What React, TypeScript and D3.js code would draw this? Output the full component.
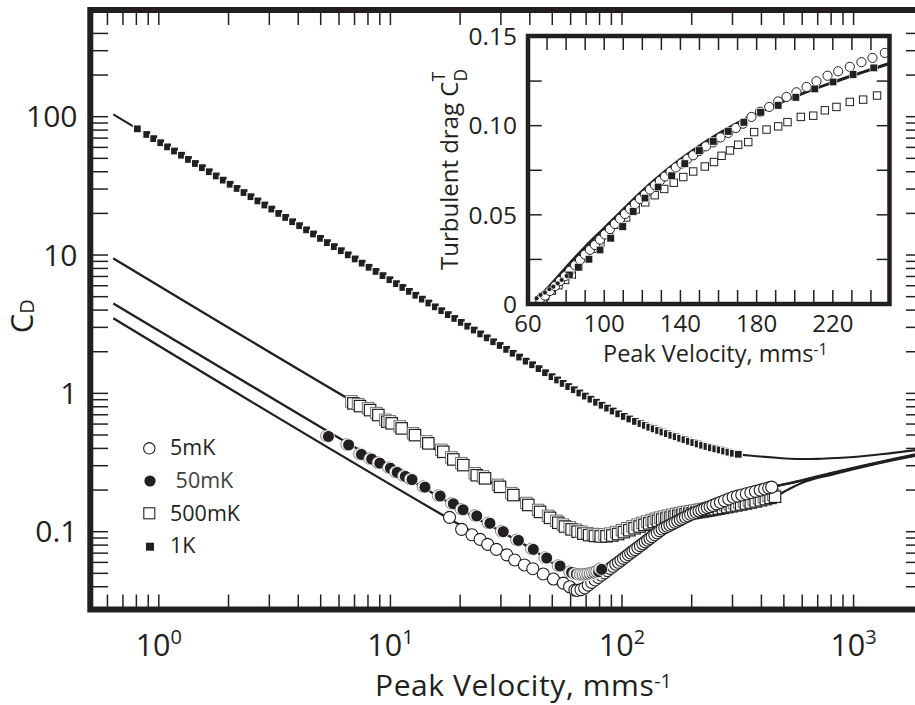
import React from "react";
import * as d3 from "d3";

const INK = "#231f20";
const FONT = "'Open Sans', 'Noto Sans', sans-serif";

// ---------- main panel: drag coefficient C_D against peak velocity (mm/s) ----------
const vel1K = [0.808, 0.887, 0.951, 1.019, 1.091, 1.169, 1.253, 1.343, 1.439, 1.542, 1.652, 1.77, 1.897, 2.032, 2.178, 2.333, 2.5, 2.679, 2.871, 3.076, 3.296, 3.532, 3.784, 4.055, 4.345, 4.656, 4.989, 5.346, 5.728, 6.138, 6.577, 7.047, 7.551, 8.091, 8.67, 9.29, 9.954, 10.62, 11.32, 12.08, 12.88, 13.74, 14.66, 15.63, 16.67, 17.78, 18.97, 20.23, 21.58, 23.01, 24.55, 26.18, 27.93, 29.79, 31.77, 33.88, 36.14, 38.55, 41.11, 43.85, 46.77, 49.89, 52.72, 55.72, 58.88, 62.23, 65.77, 69.5, 73.45, 77.62, 82.04, 86.7, 91.62, 96.83, 102.3, 108.1, 114.3, 120.8, 126.2, 131.8, 137.7, 143.9, 150.3, 157.0, 164.1, 171.4, 179.1, 187.1, 195.4, 204.2, 213.3, 222.8, 232.8, 243.2, 254.1, 265.5, 277.3, 289.7, 302.7, 317.7];
const cd1K = [81.7, 74.4, 69.4, 64.8, 60.5, 56.5, 52.7, 49.1, 45.9, 42.8, 40.0, 37.3, 34.8, 32.5, 30.3, 28.3, 26.4, 24.6, 23.0, 21.5, 20.0, 18.7, 17.4, 16.3, 15.2, 14.2, 13.2, 12.3, 11.5, 10.75, 10.03, 9.37, 8.74, 8.16, 7.61, 7.1, 6.63, 6.21, 5.83, 5.46, 5.12, 4.8, 4.5, 4.22, 3.96, 3.71, 3.48, 3.26, 3.06, 2.87, 2.69, 2.52, 2.36, 2.22, 2.08, 1.95, 1.83, 1.71, 1.61, 1.51, 1.41, 1.32, 1.25, 1.18, 1.12, 1.062, 1.006, 0.956, 0.908, 0.863, 0.821, 0.782, 0.745, 0.711, 0.681, 0.653, 0.627, 0.605, 0.587, 0.569, 0.554, 0.539, 0.525, 0.512, 0.498, 0.486, 0.474, 0.463, 0.451, 0.441, 0.431, 0.422, 0.413, 0.404, 0.397, 0.39, 0.383, 0.376, 0.369, 0.363];

const vel500mK = [6.92, 7.39, 8.17, 8.87, 9.7, 10.13, 11.19, 12.77, 14.58, 16.92, 18.69, 20.64, 23.59, 25.62, 29.73, 33.95, 39.4, 44.3, 48.9, 53.1, 56.7, 60.6, 64.3, 68.1, 72.1, 76.4, 80.9, 85.7, 90.8, 96.2, 101.9, 107.5, 113.3, 119.1, 125, 131, 137, 143, 149, 155.5, 162, 168.5, 175, 181.5, 188, 195, 202, 209, 216, 223, 230, 237, 244, 252, 262, 273, 285, 298, 312, 327, 343, 360, 378, 398, 418, 438, 458];
const cd500mK = [0.847, 0.809, 0.757, 0.697, 0.623, 0.607, 0.558, 0.499, 0.435, 0.378, 0.333, 0.303, 0.256, 0.243, 0.211, 0.184, 0.156, 0.139, 0.126, 0.116, 0.109, 0.104, 0.1, 0.0968, 0.0945, 0.0932, 0.0924, 0.0926, 0.0938, 0.0962, 0.0993, 0.1025, 0.1058, 0.109, 0.112, 0.1148, 0.1175, 0.12, 0.1223, 0.1245, 0.1265, 0.1284, 0.1302, 0.1318, 0.1333, 0.1348, 0.1362, 0.1375, 0.1388, 0.1401, 0.1413, 0.1425, 0.1437, 0.1451, 0.1468, 0.1486, 0.1506, 0.1527, 0.155, 0.1574, 0.1599, 0.1626, 0.1655, 0.1687, 0.172, 0.1755, 0.179];

const vel5mK = [18.0, 20.3, 22.5, 24.4, 26.3, 28.7, 31.8, 34.4, 37.9, 41.2, 45.7, 50.6, 55.8, 59.4, 62.6, 64, 66.5, 69, 71.5, 74, 76.5, 79, 81.5, 84, 86.5, 89, 91.5, 94, 96.5, 99, 101.5, 104, 106.5, 109, 111.5, 114, 117, 120, 123, 126, 129, 132, 135, 138.5, 142, 145.5, 149, 153, 157, 161, 165, 169.5, 174, 178.5, 183, 188, 193, 198, 203.5, 209, 215, 221, 227, 233.5, 240, 247, 256, 266, 277, 289, 302, 315, 329, 344, 360, 377, 395, 413, 430, 443];
const cd5mK = [0.127, 0.104, 0.095, 0.088, 0.081, 0.0745, 0.068, 0.0625, 0.0575, 0.054, 0.0495, 0.0455, 0.0425, 0.04, 0.0378, 0.0376, 0.0381, 0.0392, 0.0411, 0.043, 0.0448, 0.0467, 0.0486, 0.0504, 0.0524, 0.0543, 0.0562, 0.0582, 0.0601, 0.0621, 0.0641, 0.0661, 0.0682, 0.0702, 0.0723, 0.0743, 0.0768, 0.0793, 0.0818, 0.0844, 0.0869, 0.0895, 0.0921, 0.0951, 0.0982, 0.1014, 0.1045, 0.107, 0.1094, 0.1117, 0.1141, 0.1167, 0.1193, 0.122, 0.1246, 0.1275, 0.1303, 0.1332, 0.1358, 0.1384, 0.1411, 0.1437, 0.1463, 0.1492, 0.152, 0.155, 0.1588, 0.1631, 0.1675, 0.1724, 0.1775, 0.1809, 0.1844, 0.188, 0.1918, 0.1957, 0.1998, 0.2037, 0.2073, 0.2101];

const vel50mK = [5.4, 6.6, 7.5, 8.3, 9.0, 10.0, 10.7, 11.6, 12.4, 14.1, 16.4, 18.7, 20.6, 23.6, 26.9, 30.7, 35.7, 41.4, 47.3, 54.0, 60.6, 63.5, 65.9, 67.5, 69.2, 70.9, 72.6, 74.3, 76.0, 77.7, 79.3, 81.7];
const cd50mK = [0.488, 0.424, 0.362, 0.335, 0.313, 0.288, 0.268, 0.251, 0.238, 0.21, 0.181, 0.159, 0.144, 0.13, 0.115, 0.1, 0.0865, 0.0745, 0.0645, 0.0565, 0.0508, 0.0494, 0.0488, 0.0487, 0.0487, 0.0489, 0.0492, 0.0496, 0.0501, 0.0507, 0.0513, 0.0534];

// model curves (laminar + turbulent drag) for each temperature
const fitVel1K = [0.636, 0.808, 2, 10, 50, 80, 100, 150, 200, 250, 317.7, 394, 466, 531, 600, 700, 850, 1000, 1340, 1841, 2000];
const fitCd1K = [103.8, 81.7, 33, 6.6, 1.32, 0.845, 0.69, 0.525, 0.445, 0.4, 0.363, 0.35, 0.342, 0.337, 0.335, 0.336, 0.341, 0.347, 0.364, 0.389, 0.396];
const fitVel500mK = [0.636, 6.92, 20, 40, 60, 80, 100, 150, 200, 300, 458, 520, 600, 814, 1100, 1500, 2000];
const fitCd500mK = [9.47, 0.87, 0.31, 0.155, 0.104, 0.0925, 0.0985, 0.1225, 0.136, 0.153, 0.18, 0.201, 0.226, 0.26, 0.294, 0.33, 0.364];
const fitVel50mK = [0.636, 5.4, 10, 20, 40, 60, 70, 81.7, 92, 105, 120, 136, 150, 178, 214, 255, 302, 355, 420, 470, 600, 814, 1100, 1500, 2000];
const fitCd50mK = [4.47, 0.527, 0.288, 0.146, 0.0765, 0.0508, 0.0487, 0.0534, 0.0625, 0.0745, 0.0885, 0.103, 0.114, 0.132, 0.149, 0.165, 0.18, 0.194, 0.207, 0.215, 0.236, 0.267, 0.3, 0.336, 0.372];
const fitVel5mK = [0.636, 18, 25, 35, 45, 55, 62, 66, 70, 80, 100, 150, 200, 300, 443, 600, 814, 1100, 1500, 2000];
const fitCd5mK = [3.49, 0.1235, 0.09, 0.064, 0.05, 0.042, 0.0385, 0.0378, 0.0395, 0.0475, 0.0635, 0.1045, 0.1335, 0.177, 0.21, 0.234, 0.265, 0.298, 0.334, 0.368];

const xDecades = [1, 10, 100, 1000];
const xDecadeExponents = ["0", "1", "2", "3"];
const yDecades = [0.1, 1, 10, 100];
const yDecadeLabels = ["0.1", "1", "10", "100"];

const legendLabels = ["5mK", " 50mK", "500mK", "1K"];

// ---------- inset: turbulent drag C_D^T against peak velocity ----------
const insetVel5mK = [66.3, 68.9, 71.5, 74.2, 76.8, 79.4, 82, 84.7, 87.3, 89.9, 92.5, 95.1, 97.8, 100.4, 103, 105.6, 108.3, 110.9, 113.5, 116.1, 118.7, 121.4, 124, 126.6, 129.2, 131.9, 134.8, 137.6, 140.6, 143.6, 146.7, 149.9, 153.4, 157.2, 161, 165.1, 169.1, 172.9, 177.3, 181.8, 186.6, 191.3, 195.7, 200.9, 206.2, 211.4, 217.2, 222.8, 228.9, 235, 240.8, 247.3];
const insetCdT5mK = [0.0026, 0.0047, 0.0073, 0.0101, 0.0129, 0.0156, 0.0186, 0.0217, 0.0247, 0.0277, 0.0304, 0.0331, 0.0361, 0.039, 0.042, 0.0449, 0.0478, 0.0505, 0.0533, 0.056, 0.0589, 0.0614, 0.0642, 0.0666, 0.069, 0.0715, 0.0741, 0.0766, 0.0788, 0.0813, 0.0834, 0.0858, 0.0884, 0.0906, 0.0934, 0.0959, 0.0987, 0.1011, 0.1049, 0.1078, 0.1105, 0.1136, 0.1161, 0.1187, 0.1217, 0.1249, 0.128, 0.1305, 0.133, 0.1356, 0.138, 0.1408];

const insetVel50mK = [64.5, 66.6, 68.9, 71.2, 73.3, 75.6, 77.7, 80.3];
const insetCdT50mK = [0.0032, 0.0051, 0.0064, 0.0083, 0.0097, 0.0116, 0.0135, 0.0157];

const insetVel500mK = [66, 69, 72.5, 76, 79.5, 83, 86.5, 90, 94, 98, 102.5, 107, 111.5, 116.5, 121.5, 126.5, 131.5, 136.5, 141.5, 146.7, 152.8, 157.6, 161.6, 166, 170.3, 175.6, 178.7, 185.2, 191.3, 196.2, 203.2, 209.7, 215.8, 221.9, 228.9, 235.9, 243.2];
const insetCdT500mK = [0.002, 0.0045, 0.0075, 0.0105, 0.0135, 0.0165, 0.021, 0.026, 0.031, 0.0345, 0.04, 0.0445, 0.0485, 0.053, 0.057, 0.061, 0.0645, 0.068, 0.0712, 0.0743, 0.0771, 0.0796, 0.0831, 0.0861, 0.0893, 0.0908, 0.0964, 0.0978, 0.0996, 0.102, 0.1049, 0.1056, 0.1086, 0.1105, 0.1133, 0.1146, 0.1169];

const insetVel1K = [81.7, 86.4, 92, 97.8, 103.4, 109.7, 115.2, 121.4, 128.3, 135.4, 142.3, 149.9, 157.2, 165.1, 173.3, 182.1, 191.3, 200.6, 210.5, 220.1, 230.6, 241.5];
const insetCdT1K = [0.0163, 0.0206, 0.0251, 0.0303, 0.0369, 0.0434, 0.0519, 0.0594, 0.0656, 0.0719, 0.0787, 0.086, 0.0912, 0.0968, 0.1019, 0.1075, 0.1114, 0.1159, 0.1206, 0.1245, 0.1287, 0.1324];

const insetFitVel = [64, 70, 80, 90, 100, 110, 120, 130, 140, 150, 160, 170, 180, 190, 200, 210, 220, 230, 240, 250];
const insetFitCdT = [0.002, 0.0085, 0.0205, 0.032, 0.0425, 0.053, 0.0633, 0.0726, 0.081, 0.0886, 0.0954, 0.1015, 0.1068, 0.1118, 0.1163, 0.1205, 0.1243, 0.128, 0.1315, 0.135];

const insetXLabels = [60, 100, 140, 180, 220];
const insetYLabels = ["0", "0.05", "0.10", "0.15"];
const insetYLabelValues = [0, 0.05, 0.1, 0.15];

type Pt = [number, number];
const zipPts = (xs: number[], ys: number[]): Pt[] =>
  xs.slice(0, Math.min(xs.length, ys.length)).map((v, i) => [v, ys[i]] as Pt);

export default function App() {
  // main log-log axes
  const x = d3.scaleLog().domain([0.5, 2000]).range([89.1, 923.3]);
  const y = d3.scaleLog().domain([0.1, 100]).range([531.7, 116.7]);
  const frame = { left: 90.3, right: 924, top: 10, bottom: 609.5 };

  const curve = d3
    .line<Pt>()
    .x((d) => x(d[0]))
    .y((d) => y(d[1]))
    .curve(d3.curveMonotoneX);

  const xTicks = d3
    .range(-1, 4)
    .flatMap((e) => d3.range(1, 10).map((m) => m * Math.pow(10, e)))
    .filter((v) => v > 0.52 && v < 1990);
  const yTicks = d3
    .range(-2, 3)
    .flatMap((e) => d3.range(1, 10).map((m) => m * Math.pow(10, e)))
    .filter((v) => v > 0.039 && v < 450);

  const pts1K = zipPts(vel1K, cd1K);
  const pts500 = zipPts(vel500mK, cd500mK);
  const pts5 = zipPts(vel5mK, cd5mK);
  const pts50 = zipPts(vel50mK, cd50mK);

  const fits: Pt[][] = [
    zipPts(fitVel500mK, fitCd500mK),
    zipPts(fitVel50mK, fitCd50mK),
    zipPts(fitVel5mK, fitCd5mK),
  ];
  const fit1K = zipPts(fitVel1K, fitCd1K);

  // inset linear axes
  const ix = d3.scaleLinear().domain([60, 250]).range([528, 890]);
  const iy = d3.scaleLinear().domain([0, 0.15]).range([304, 36.5]);
  const insetLine = d3
    .line<Pt>()
    .x((d) => ix(d[0]))
    .y((d) => iy(d[1]))
    .curve(d3.curveMonotoneX);
  const ixTicks = d3.range(70, 250, 10);
  const iyTicks = [0.025, 0.05, 0.075, 0.1, 0.125];

  const sq500 = 11.4;
  const sq1K = 8;

  return (
    <svg
      width={915}
      height={705}
      viewBox="0 0 915 705"
      style={{ position: "absolute", left: 0, top: 0, background: "#fff" }}
      fontFamily={FONT}
    >
      <rect x={0} y={0} width={915} height={705} fill="#fff" />

      {/* axis ticks of the main panel */}
      <g stroke={INK} strokeWidth={1.5}>
        {xTicks.map((v, i) => (
          <g key={"xt" + i}>
            <line x1={x(v)} x2={x(v)} y1={frame.bottom} y2={594.5} />
            <line x1={x(v)} x2={x(v)} y1={frame.top} y2={25} />
          </g>
        ))}
        {yTicks.map((v, i) => (
          <g key={"yt" + i}>
            <line x1={frame.left} x2={108} y1={y(v)} y2={y(v)} />
            <line x1={frame.right} x2={906} y1={y(v)} y2={y(v)} />
          </g>
        ))}
      </g>

      {/* model curves */}
      <g fill="none" stroke={INK} strokeWidth={2.3} strokeLinejoin="round">
        {fits.map((f, i) => (
          <path key={"fit" + i} d={curve(f) || ""} />
        ))}
        <path d={curve(fit1K) || ""} strokeWidth={2.1} />
      </g>

      {/* 1K: small filled squares */}
      <g>
        {pts1K.map((d, i) => (
          <rect
            key={"k" + i}
            x={x(d[0]) - sq1K / 2}
            y={y(d[1]) - sq1K / 2}
            width={sq1K}
            height={sq1K}
            fill={INK}
            stroke="#fff"
            strokeWidth={1.2}
          />
        ))}
      </g>

      {/* 500mK: open squares */}
      <g>
        {pts500.map((d, i) => (
          <g key={"s" + i}>
            <rect
              x={x(d[0]) - sq500 / 2 - 2}
              y={y(d[1]) - sq500 / 2 - 2}
              width={sq500}
              height={sq500}
              fill="#fff"
              stroke="#6d6e71"
              strokeWidth={1}
            />
            <rect
              x={x(d[0]) - sq500 / 2}
              y={y(d[1]) - sq500 / 2}
              width={sq500}
              height={sq500}
              fill="#fff"
              stroke={INK}
              strokeWidth={1.2}
            />
          </g>
        ))}
      </g>

      {/* 5mK: open circles */}
      <g>
        {pts5.map((d, i) => (
          <circle
            key={"o" + i}
            cx={x(d[0])}
            cy={y(d[1])}
            r={6}
            fill="#fff"
            stroke={INK}
            strokeWidth={1.1}
          />
        ))}
      </g>

      {/* 50mK: filled circles */}
      <g>
        {pts50.map((d, i) => (
          <g key={"f" + i}>
            <circle cx={x(d[0]) - 2} cy={y(d[1]) - 0.5} r={5.8} fill="#fff" stroke="#6d6e71" strokeWidth={0.9} />
            <circle cx={x(d[0])} cy={y(d[1])} r={6} fill={INK} stroke="#fff" strokeWidth={0.9} />
          </g>
        ))}
      </g>

      {/* main frame */}
      <rect
        x={frame.left}
        y={frame.top}
        width={frame.right - frame.left}
        height={frame.bottom - frame.top}
        fill="none"
        stroke={INK}
        strokeWidth={6}
      />

      {/* main tick labels */}
      <g fill={INK}>
        {xDecades.map((v, i) => (
          <text key={"xl" + i} x={x(v)} y={655.5} textAnchor="middle" fontSize={30.5}>
            10
            <tspan dy={-11.5} fontSize={20}>
              {xDecadeExponents[i]}
            </tspan>
          </text>
        ))}
        {yDecades.map((v, i) => (
          <text key={"yl" + i} x={77.5} y={y(v) + 10.7} textAnchor="end" fontSize={30}>
            {yDecadeLabels[i]}
          </text>
        ))}
        <text x={375} y={696} fontSize={30} letterSpacing={0.6}>
          Peak Velocity, mms
          <tspan dy={-8.5} fontSize={19.5} letterSpacing={0}>
            -1
          </tspan>
        </text>
        <text transform="translate(33.3,333.3) rotate(-90)" fontSize={31}>
          C
          <tspan fontSize={20} dy={1}>
            D
          </tspan>
        </text>
      </g>

      {/* legend */}
      <g>
        <circle cx={149.3} cy={448.3} r={5.7} fill="#fff" stroke={INK} strokeWidth={1.1} />
        <circle cx={150} cy={481} r={5.6} fill={INK} />
        <rect x={149.3 - 5.5} y={513.3 - 5.5} width={11} height={11} fill="#fff" stroke={INK} strokeWidth={1.1} />
        <rect x={146} y={542.7} width={8} height={8} fill={INK} />
        <text x={170} y={455} fontSize={21.5} fill={INK}>
          {legendLabels[0]}
        </text>
        <text x={170} y={487.7} fontSize={21.5} fill="#414042" style={{ whiteSpace: "pre" }}>
          {legendLabels[1]}
        </text>
        <text x={170} y={521} fontSize={21.5} fill={INK}>
          {legendLabels[2]}
        </text>
        <text x={170} y={552.7} fontSize={21.5} fill={INK}>
          {legendLabels[3]}
        </text>
      </g>

      {/* ---------- inset ---------- */}
      <rect x={528} y={36} width={361.5} height={268} fill="#fff" />
      <g stroke={INK} strokeWidth={1.5}>
        {ixTicks.map((v, i) => (
          <g key={"ixt" + i}>
            <line x1={ix(v)} x2={ix(v)} y1={304} y2={290} />
            <line x1={ix(v)} x2={ix(v)} y1={36} y2={50} />
          </g>
        ))}
        {iyTicks.map((v, i) => (
          <g key={"iyt" + i}>
            <line x1={528} x2={541.7} y1={iy(v)} y2={iy(v)} />
            <line x1={889.5} x2={876.7} y1={iy(v)} y2={iy(v)} />
          </g>
        ))}
      </g>

      <path
        d={insetLine(zipPts(insetFitVel, insetFitCdT)) || ""}
        fill="none"
        stroke={INK}
        strokeWidth={3}
      />

      {zipPts(insetVel500mK, insetCdT500mK).map((d, i) => (
        <rect
          key={"is" + i}
          x={ix(d[0]) - 3.7}
          y={iy(d[1]) - 3.7}
          width={7.4}
          height={7.4}
          fill="#fff"
          stroke={INK}
          strokeWidth={1}
        />
      ))}
      {zipPts(insetVel5mK, insetCdT5mK).map((d, i) => (
        <circle key={"io" + i} cx={ix(d[0])} cy={iy(d[1])} r={4.6} fill="#fff" stroke={INK} strokeWidth={1} />
      ))}
      {zipPts(insetVel1K, insetCdT1K).map((d, i) => (
        <rect
          key={"ik" + i}
          x={ix(d[0]) - 3.8}
          y={iy(d[1]) - 3.8}
          width={7.6}
          height={7.6}
          fill={INK}
          stroke="#fff"
          strokeWidth={0.6}
        />
      ))}
      {zipPts(insetVel50mK, insetCdT50mK).map((d, i) => (
        <circle key={"id" + i} cx={ix(d[0])} cy={iy(d[1])} r={2.4} fill={INK} stroke="#fff" strokeWidth={0.5} />
      ))}

      <rect x={528} y={36} width={361.5} height={268} fill="none" stroke={INK} strokeWidth={4.5} />

      <g fill={INK}>
        {insetXLabels.map((v, i) => (
          <text key={"ixl" + i} x={ix(v)} y={331.5} textAnchor="middle" fontSize={24}>
            {String(v)}
          </text>
        ))}
        {insetYLabelValues.map((v, i) => (
          <text key={"iyl" + i} x={517} y={iy(v) + 8.7} textAnchor="end" fontSize={24.5}>
            {insetYLabels[i]}
          </text>
        ))}
        <text x={603} y={362} fontSize={23.5}>
          Peak Velocity, mms
          <tspan dy={-7.5} fontSize={16}>
            -1
          </tspan>
        </text>
        <text transform="translate(458.3,270) rotate(-90)" fontSize={24}>
          Turbulent drag C
          <tspan fontSize={17.5} dy={9}>
            D
          </tspan>
          <tspan fontSize={17.5} dx={-12.5} dy={-22.5}>
            T
          </tspan>
        </text>
      </g>
    </svg>
  );
}
